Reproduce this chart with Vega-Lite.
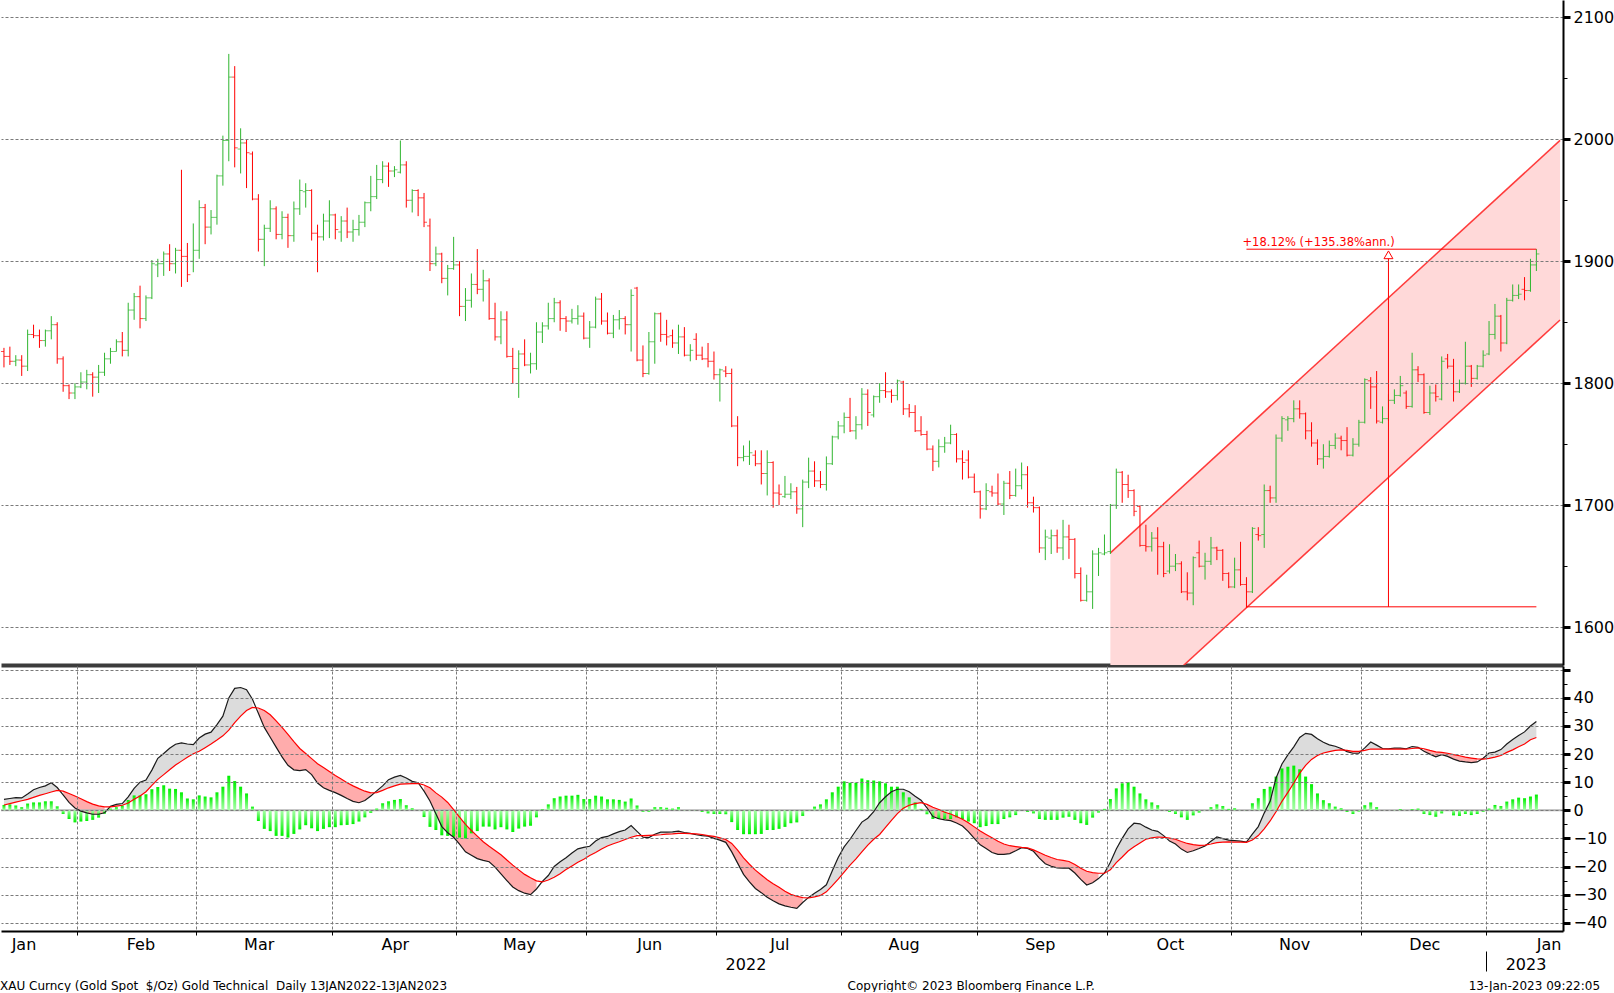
{
"$schema":"https://vega.github.io/schema/vega-lite/v6.json",
"padding":0,
"autosize":{"type":"pad"},
"background":"white",
"config":{"view":{"stroke":null},"axis":{"labelFont":"DejaVu Sans","labelColor":"#000"},"text":{"font":"DejaVu Sans"}},
"title":{"text":"XAU Curncy (Gold Spot\u00a0\u00a0$/Oz) Gold Technical\u00a0\u00a0Daily 13JAN2022-13JAN2023\u00a0\u00a0\u00a0\u00a0\u00a0\u00a0\u00a0\u00a0\u00a0\u00a0\u00a0\u00a0\u00a0\u00a0\u00a0\u00a0\u00a0\u00a0\u00a0\u00a0\u00a0\u00a0\u00a0\u00a0\u00a0\u00a0\u00a0\u00a0\u00a0\u00a0\u00a0\u00a0\u00a0\u00a0\u00a0\u00a0\u00a0\u00a0\u00a0\u00a0\u00a0\u00a0\u00a0\u00a0\u00a0\u00a0\u00a0\u00a0\u00a0\u00a0\u00a0\u00a0\u00a0\u00a0\u00a0\u00a0\u00a0\u00a0\u00a0\u00a0\u00a0\u00a0\u00a0\u00a0\u00a0\u00a0\u00a0\u00a0\u00a0\u00a0\u00a0\u00a0\u00a0\u00a0\u00a0\u00a0\u00a0\u00a0\u00a0\u00a0\u00a0\u00a0\u00a0\u00a0\u00a0\u00a0\u00a0\u00a0\u00a0\u00a0\u00a0\u00a0\u00a0\u00a0\u00a0\u00a0\u00a0\u00a0\u00a0\u00a0\u00a0\u00a0\u00a0\u00a0\u00a0Copyright\u00a9 2023 Bloomberg Finance L.P.\u00a0\u00a0\u00a0\u00a0\u00a0\u00a0\u00a0\u00a0\u00a0\u00a0\u00a0\u00a0\u00a0\u00a0\u00a0\u00a0\u00a0\u00a0\u00a0\u00a0\u00a0\u00a0\u00a0\u00a0\u00a0\u00a0\u00a0\u00a0\u00a0\u00a0\u00a0\u00a0\u00a0\u00a0\u00a0\u00a0\u00a0\u00a0\u00a0\u00a0\u00a0\u00a0\u00a0\u00a0\u00a0\u00a0\u00a0\u00a0\u00a0\u00a0\u00a0\u00a0\u00a0\u00a0\u00a0\u00a0\u00a0\u00a0\u00a0\u00a0\u00a0\u00a0\u00a0\u00a0\u00a0\u00a0\u00a0\u00a0\u00a0\u00a0\u00a0\u00a0\u00a0\u00a0\u00a0\u00a0\u00a0\u00a0\u00a0\u00a0\u00a0\u00a0\u00a0\u00a0\u00a0\u00a0\u00a0\u00a0\u00a0\u00a0\u00a0\u00a0\u00a0\u00a0\u00a0\u00a0\u00a0\u00a013-Jan-2023 09:22:05","orient":"bottom","anchor":"start","frame":"bounds","offset":9,"fontSize":12,"fontWeight":"normal","font":"DejaVu Sans","color":"#000"},
"datasets":{
"p":[
{"d":"2022-01-13","o":1826,"h":1829,"l":1813,"c":1822,"m":3.9,"s":1.9,"k":1.9,"g":0,"sd":"u"},
{"d":"2022-01-14","o":1822,"h":1830,"l":1815,"c":1818,"m":4.2,"s":2.4,"k":2.1,"g":0,"sd":"u"},
{"d":"2022-01-17","o":1818,"h":1823,"l":1814,"c":1819,"m":4.5,"s":2.9,"k":1.7,"g":0,"sd":"u"},
{"d":"2022-01-18","o":1819,"h":1823,"l":1806,"c":1814,"m":4.4,"s":3.4,"k":1.1,"g":0,"sd":"u"},
{"d":"2022-01-19","o":1814,"h":1844,"l":1810,"c":1840,"m":5.8,"s":3.9,"k":2.4,"g":0,"sd":"u"},
{"d":"2022-01-20","o":1840,"h":1848,"l":1837,"c":1839,"m":7.3,"s":4.6,"k":2.8,"g":0,"sd":"u"},
{"d":"2022-01-21","o":1839,"h":1844,"l":1829,"c":1835,"m":8.1,"s":5.3,"k":2.8,"g":0,"sd":"u"},
{"d":"2022-01-24","o":1835,"h":1844,"l":1830,"c":1843,"m":8.7,"s":5.9,"k":3.2,"g":0,"sd":"u"},
{"d":"2022-01-25","o":1843,"h":1855,"l":1836,"c":1848,"m":9.8,"s":6.5,"k":3.2,"g":0,"sd":"u"},
{"d":"2022-01-26","o":1848,"h":1850,"l":1816,"c":1820,"m":8.1,"s":7.1,"k":1.4,"g":0,"sd":"u"},
{"d":"2022-01-27","o":1820,"h":1822,"l":1793,"c":1798,"m":5.5,"s":6.8,"k":-1.3,"g":1,"sd":"d"},
{"d":"2022-01-28","o":1798,"h":1799,"l":1787,"c":1792,"m":2.8,"s":6.0,"k":-3.1,"g":1,"sd":"d"},
{"d":"2022-01-31","o":1792,"h":1800,"l":1787,"c":1797,"m":0.8,"s":5.1,"k":-4.3,"g":1,"sd":"d"},
{"d":"2022-02-01","o":1797,"h":1809,"l":1796,"c":1801,"m":-0.3,"s":4.1,"k":-4.0,"g":1,"sd":"d"},
{"d":"2022-02-02","o":1801,"h":1811,"l":1795,"c":1807,"m":-0.9,"s":3.1,"k":-3.8,"g":1,"sd":"d"},
{"d":"2022-02-03","o":1807,"h":1809,"l":1789,"c":1805,"m":-1.4,"s":2.2,"k":-3.4,"g":1,"sd":"d"},
{"d":"2022-02-04","o":1805,"h":1815,"l":1792,"c":1809,"m":-1.4,"s":1.6,"k":-2.6,"g":1,"sd":"d"},
{"d":"2022-02-07","o":1809,"h":1825,"l":1806,"c":1820,"m":-0.9,"s":1.2,"k":-1.2,"g":1,"sd":"d"},
{"d":"2022-02-08","o":1820,"h":1829,"l":1816,"c":1826,"m":1.4,"s":1.2,"k":0.6,"g":2,"sd":"u"},
{"d":"2022-02-09","o":1826,"h":1836,"l":1826,"c":1834,"m":2.1,"s":1.5,"k":1.1,"g":2,"sd":"u"},
{"d":"2022-02-10","o":1834,"h":1842,"l":1822,"c":1827,"m":2.4,"s":1.8,"k":1.7,"g":2,"sd":"u"},
{"d":"2022-02-11","o":1827,"h":1866,"l":1822,"c":1860,"m":4.8,"s":2.6,"k":3.7,"g":2,"sd":"u"},
{"d":"2022-02-14","o":1860,"h":1874,"l":1852,"c":1871,"m":7.8,"s":3.9,"k":5.3,"g":2,"sd":"u"},
{"d":"2022-02-15","o":1871,"h":1880,"l":1845,"c":1853,"m":10.0,"s":5.1,"k":5.3,"g":2,"sd":"u"},
{"d":"2022-02-16","o":1853,"h":1872,"l":1851,"c":1870,"m":10.8,"s":6.6,"k":5.7,"g":2,"sd":"u"},
{"d":"2022-02-17","o":1870,"h":1901,"l":1869,"c":1898,"m":14.3,"s":8.9,"k":7.5,"g":2,"sd":"u"},
{"d":"2022-02-18","o":1897,"h":1902,"l":1887,"c":1898,"m":18.5,"s":11.0,"k":8.3,"g":2,"sd":"u"},
{"d":"2022-02-21","o":1898,"h":1908,"l":1888,"c":1906,"m":20.2,"s":12.7,"k":8.9,"g":2,"sd":"u"},
{"d":"2022-02-22","o":1906,"h":1914,"l":1892,"c":1898,"m":22.1,"s":14.4,"k":7.7,"g":2,"sd":"u"},
{"d":"2022-02-23","o":1898,"h":1911,"l":1890,"c":1909,"m":23.5,"s":16.1,"k":7.6,"g":2,"sd":"u"},
{"d":"2022-02-24","o":1909,"h":1975,"l":1879,"c":1904,"m":24.0,"s":17.5,"k":6.4,"g":2,"sd":"u"},
{"d":"2022-02-25","o":1904,"h":1915,"l":1883,"c":1889,"m":23.6,"s":18.9,"k":4.2,"g":2,"sd":"u"},
{"d":"2022-02-28","o":1900,"h":1931,"l":1891,"c":1909,"m":23.4,"s":20.1,"k":3.9,"g":2,"sd":"u"},
{"d":"2022-03-01","o":1909,"h":1950,"l":1902,"c":1944,"m":25.7,"s":21.0,"k":5.3,"g":2,"sd":"u"},
{"d":"2022-03-02","o":1944,"h":1947,"l":1914,"c":1928,"m":27.1,"s":22.3,"k":4.9,"g":2,"sd":"u"},
{"d":"2022-03-03","o":1928,"h":1942,"l":1922,"c":1936,"m":27.8,"s":23.6,"k":4.6,"g":2,"sd":"u"},
{"d":"2022-03-04","o":1936,"h":1971,"l":1930,"c":1970,"m":30.5,"s":25.0,"k":6.4,"g":2,"sd":"u"},
{"d":"2022-03-07","o":1970,"h":2003,"l":1962,"c":1999,"m":33.5,"s":26.5,"k":8.4,"g":2,"sd":"u"},
{"d":"2022-03-08","o":1999,"h":2070,"l":1982,"c":2051,"m":40.0,"s":28.5,"k":12.3,"g":2,"sd":"u"},
{"d":"2022-03-09","o":2051,"h":2060,"l":1977,"c":1993,"m":43.4,"s":31.2,"k":10.4,"g":2,"sd":"u"},
{"d":"2022-03-10","o":1992,"h":2009,"l":1972,"c":1997,"m":43.7,"s":33.5,"k":8.4,"g":2,"sd":"u"},
{"d":"2022-03-11","o":1997,"h":2000,"l":1960,"c":1989,"m":42.9,"s":35.5,"k":6.0,"g":2,"sd":"u"},
{"d":"2022-03-14","o":1988,"h":1990,"l":1950,"c":1951,"m":39.5,"s":36.6,"k":1.3,"g":2,"sd":"u"},
{"d":"2022-03-15","o":1951,"h":1955,"l":1908,"c":1918,"m":34.5,"s":36.4,"k":-3.8,"g":3,"sd":"d"},
{"d":"2022-03-16","o":1918,"h":1930,"l":1896,"c":1927,"m":29.5,"s":35.5,"k":-6.6,"g":3,"sd":"d"},
{"d":"2022-03-17","o":1927,"h":1950,"l":1924,"c":1943,"m":26.0,"s":34.0,"k":-7.4,"g":3,"sd":"d"},
{"d":"2022-03-18","o":1943,"h":1945,"l":1918,"c":1922,"m":22.5,"s":31.8,"k":-9.1,"g":3,"sd":"d"},
{"d":"2022-03-21","o":1922,"h":1941,"l":1918,"c":1936,"m":19.0,"s":29.5,"k":-9.1,"g":3,"sd":"d"},
{"d":"2022-03-22","o":1936,"h":1939,"l":1911,"c":1921,"m":16.0,"s":27.0,"k":-9.7,"g":3,"sd":"d"},
{"d":"2022-03-23","o":1921,"h":1949,"l":1916,"c":1943,"m":14.4,"s":24.4,"k":-8.4,"g":3,"sd":"d"},
{"d":"2022-03-24","o":1943,"h":1967,"l":1938,"c":1958,"m":14.1,"s":22.0,"k":-6.8,"g":3,"sd":"d"},
{"d":"2022-03-25","o":1957,"h":1964,"l":1944,"c":1958,"m":14.5,"s":20.2,"k":-5.3,"g":3,"sd":"d"},
{"d":"2022-03-28","o":1958,"h":1959,"l":1917,"c":1923,"m":12.7,"s":18.4,"k":-6.4,"g":3,"sd":"d"},
{"d":"2022-03-29","o":1923,"h":1930,"l":1891,"c":1920,"m":9.7,"s":16.6,"k":-7.4,"g":3,"sd":"d"},
{"d":"2022-03-30","o":1920,"h":1939,"l":1917,"c":1933,"m":8.0,"s":15.2,"k":-6.6,"g":3,"sd":"d"},
{"d":"2022-03-31","o":1933,"h":1950,"l":1919,"c":1938,"m":7.1,"s":13.8,"k":-6.0,"g":3,"sd":"d"},
{"d":"2022-04-01","o":1938,"h":1939,"l":1918,"c":1926,"m":6.3,"s":12.4,"k":-6.0,"g":3,"sd":"d"},
{"d":"2022-04-04","o":1924,"h":1937,"l":1916,"c":1933,"m":5.3,"s":11.1,"k":-5.3,"g":3,"sd":"d"},
{"d":"2022-04-05","o":1933,"h":1944,"l":1919,"c":1924,"m":4.2,"s":9.8,"k":-5.2,"g":3,"sd":"d"},
{"d":"2022-04-06","o":1924,"h":1934,"l":1916,"c":1926,"m":3.2,"s":8.7,"k":-4.9,"g":3,"sd":"d"},
{"d":"2022-04-07","o":1926,"h":1938,"l":1921,"c":1932,"m":2.7,"s":7.7,"k":-4.0,"g":3,"sd":"d"},
{"d":"2022-04-08","o":1932,"h":1949,"l":1928,"c":1948,"m":3.5,"s":6.8,"k":-2.5,"g":3,"sd":"d"},
{"d":"2022-04-11","o":1948,"h":1970,"l":1941,"c":1953,"m":5.1,"s":6.2,"k":-0.9,"g":3,"sd":"d"},
{"d":"2022-04-12","o":1953,"h":1979,"l":1951,"c":1967,"m":6.9,"s":6.3,"k":0.6,"g":4,"sd":"u"},
{"d":"2022-04-13","o":1967,"h":1982,"l":1964,"c":1978,"m":8.7,"s":7.1,"k":2.5,"g":4,"sd":"u"},
{"d":"2022-04-14","o":1978,"h":1981,"l":1961,"c":1974,"m":10.9,"s":8.0,"k":3.2,"g":4,"sd":"u"},
{"d":"2022-04-15","o":1974,"h":1978,"l":1969,"c":1975,"m":11.8,"s":8.7,"k":3.7,"g":4,"sd":"u"},
{"d":"2022-04-18","o":1973,"h":1999,"l":1972,"c":1979,"m":12.4,"s":9.3,"k":4.0,"g":4,"sd":"u"},
{"d":"2022-04-19","o":1979,"h":1982,"l":1944,"c":1950,"m":11.5,"s":9.4,"k":1.8,"g":4,"sd":"u"},
{"d":"2022-04-20","o":1950,"h":1959,"l":1940,"c":1958,"m":10.3,"s":9.5,"k":0.7,"g":4,"sd":"u"},
{"d":"2022-04-21","o":1958,"h":1959,"l":1937,"c":1952,"m":9.8,"s":9.6,"k":0.1,"g":4,"sd":"u"},
{"d":"2022-04-22","o":1952,"h":1956,"l":1928,"c":1932,"m":6.8,"s":9.0,"k":-2.4,"g":5,"sd":"d"},
{"d":"2022-04-25","o":1929,"h":1935,"l":1892,"c":1898,"m":3.3,"s":8.0,"k":-5.9,"g":5,"sd":"d"},
{"d":"2022-04-26","o":1898,"h":1912,"l":1896,"c":1906,"m":-1.2,"s":6.2,"k":-7.0,"g":5,"sd":"d"},
{"d":"2022-04-27","o":1906,"h":1907,"l":1882,"c":1886,"m":-5.8,"s":4.7,"k":-8.9,"g":5,"sd":"d"},
{"d":"2022-04-28","o":1886,"h":1897,"l":1872,"c":1894,"m":-8.0,"s":2.8,"k":-9.1,"g":5,"sd":"d"},
{"d":"2022-04-29","o":1894,"h":1920,"l":1893,"c":1897,"m":-9.6,"s":0.2,"k":-9.4,"g":5,"sd":"d"},
{"d":"2022-05-02","o":1897,"h":1900,"l":1855,"c":1863,"m":-12.0,"s":-2.4,"k":-9.7,"g":5,"sd":"d"},
{"d":"2022-05-03","o":1863,"h":1878,"l":1851,"c":1868,"m":-14.8,"s":-5.0,"k":-10.0,"g":5,"sd":"d"},
{"d":"2022-05-04","o":1868,"h":1890,"l":1862,"c":1881,"m":-16.0,"s":-7.2,"k":-8.2,"g":5,"sd":"d"},
{"d":"2022-05-05","o":1881,"h":1910,"l":1873,"c":1877,"m":-17.2,"s":-9.2,"k":-7.4,"g":5,"sd":"d"},
{"d":"2022-05-06","o":1877,"h":1893,"l":1867,"c":1884,"m":-17.8,"s":-11.2,"k":-5.8,"g":5,"sd":"d"},
{"d":"2022-05-09","o":1884,"h":1886,"l":1852,"c":1853,"m":-18.3,"s":-12.8,"k":-5.8,"g":5,"sd":"d"},
{"d":"2022-05-10","o":1853,"h":1866,"l":1835,"c":1838,"m":-20.2,"s":-14.3,"k":-6.8,"g":5,"sd":"d"},
{"d":"2022-05-11","o":1838,"h":1859,"l":1832,"c":1852,"m":-22.6,"s":-15.8,"k":-6.0,"g":5,"sd":"d"},
{"d":"2022-05-12","o":1852,"h":1859,"l":1821,"c":1822,"m":-25.0,"s":-17.7,"k":-6.8,"g":5,"sd":"d"},
{"d":"2022-05-13","o":1822,"h":1829,"l":1800,"c":1812,"m":-27.3,"s":-19.5,"k":-7.7,"g":5,"sd":"d"},
{"d":"2022-05-16","o":1812,"h":1827,"l":1788,"c":1824,"m":-28.6,"s":-21.2,"k":-6.5,"g":5,"sd":"d"},
{"d":"2022-05-17","o":1824,"h":1836,"l":1814,"c":1815,"m":-29.5,"s":-22.8,"k":-5.8,"g":5,"sd":"d"},
{"d":"2022-05-18","o":1815,"h":1825,"l":1808,"c":1816,"m":-30.0,"s":-24.0,"k":-5.5,"g":5,"sd":"d"},
{"d":"2022-05-19","o":1816,"h":1850,"l":1811,"c":1842,"m":-28.0,"s":-25.1,"k":-2.5,"g":5,"sd":"d"},
{"d":"2022-05-20","o":1842,"h":1850,"l":1833,"c":1847,"m":-25.3,"s":-25.5,"k":0.3,"g":6,"sd":"u"},
{"d":"2022-05-23","o":1847,"h":1866,"l":1844,"c":1853,"m":-23.2,"s":-24.8,"k":2.1,"g":6,"sd":"u"},
{"d":"2022-05-24","o":1853,"h":1870,"l":1850,"c":1866,"m":-20.0,"s":-23.8,"k":4.3,"g":6,"sd":"u"},
{"d":"2022-05-25","o":1866,"h":1868,"l":1843,"c":1853,"m":-18.3,"s":-22.6,"k":4.9,"g":6,"sd":"u"},
{"d":"2022-05-26","o":1853,"h":1855,"l":1842,"c":1851,"m":-16.9,"s":-21.1,"k":5.2,"g":6,"sd":"u"},
{"d":"2022-05-27","o":1851,"h":1861,"l":1849,"c":1853,"m":-15.2,"s":-19.8,"k":5.2,"g":6,"sd":"u"},
{"d":"2022-05-30","o":1853,"h":1864,"l":1848,"c":1855,"m":-13.7,"s":-18.5,"k":5.5,"g":6,"sd":"u"},
{"d":"2022-05-31","o":1855,"h":1858,"l":1836,"c":1837,"m":-13.2,"s":-17.4,"k":4.0,"g":6,"sd":"u"},
{"d":"2022-06-01","o":1837,"h":1851,"l":1829,"c":1846,"m":-12.8,"s":-16.1,"k":4.0,"g":6,"sd":"u"},
{"d":"2022-06-02","o":1846,"h":1871,"l":1845,"c":1869,"m":-10.9,"s":-15.0,"k":5.2,"g":6,"sd":"u"},
{"d":"2022-06-03","o":1869,"h":1874,"l":1848,"c":1851,"m":-9.7,"s":-13.8,"k":4.9,"g":6,"sd":"u"},
{"d":"2022-06-06","o":1851,"h":1858,"l":1840,"c":1841,"m":-9.3,"s":-12.7,"k":3.9,"g":6,"sd":"u"},
{"d":"2022-06-07","o":1841,"h":1856,"l":1837,"c":1852,"m":-8.4,"s":-11.9,"k":3.9,"g":6,"sd":"u"},
{"d":"2022-06-08","o":1852,"h":1860,"l":1844,"c":1853,"m":-7.6,"s":-11.2,"k":3.7,"g":6,"sd":"u"},
{"d":"2022-06-09","o":1853,"h":1855,"l":1840,"c":1848,"m":-7.0,"s":-10.4,"k":3.1,"g":6,"sd":"u"},
{"d":"2022-06-10","o":1848,"h":1877,"l":1826,"c":1872,"m":-5.4,"s":-9.6,"k":4.2,"g":6,"sd":"u"},
{"d":"2022-06-13","o":1878,"h":1879,"l":1818,"c":1819,"m":-7.5,"s":-9.0,"k":1.7,"g":6,"sd":"u"},
{"d":"2022-06-14","o":1819,"h":1831,"l":1805,"c":1808,"m":-9.6,"s":-9.0,"k":-0.5,"g":7,"sd":"d"},
{"d":"2022-06-15","o":1808,"h":1842,"l":1807,"c":1834,"m":-9.7,"s":-8.9,"k":-0.5,"g":7,"sd":"d"},
{"d":"2022-06-16","o":1834,"h":1858,"l":1816,"c":1857,"m":-8.5,"s":-8.8,"k":1.1,"g":8,"sd":"u"},
{"d":"2022-06-17","o":1857,"h":1858,"l":1834,"c":1840,"m":-7.8,"s":-8.7,"k":1.1,"g":8,"sd":"u"},
{"d":"2022-06-20","o":1840,"h":1852,"l":1831,"c":1838,"m":-7.8,"s":-8.5,"k":0.9,"g":8,"sd":"u"},
{"d":"2022-06-21","o":1839,"h":1844,"l":1829,"c":1833,"m":-7.7,"s":-8.4,"k":0.6,"g":8,"sd":"u"},
{"d":"2022-06-22","o":1833,"h":1848,"l":1824,"c":1838,"m":-7.4,"s":-8.2,"k":1.1,"g":8,"sd":"u"},
{"d":"2022-06-23","o":1838,"h":1846,"l":1822,"c":1823,"m":-7.9,"s":-8.2,"k":0.1,"g":8,"sd":"u"},
{"d":"2022-06-24","o":1823,"h":1832,"l":1818,"c":1827,"m":-8.2,"s":-8.3,"k":0.1,"g":8,"sd":"u"},
{"d":"2022-06-27","o":1836,"h":1841,"l":1819,"c":1823,"m":-8.7,"s":-8.4,"k":-0.1,"g":9,"sd":"d"},
{"d":"2022-06-28","o":1823,"h":1830,"l":1819,"c":1820,"m":-9.0,"s":-8.6,"k":-0.6,"g":9,"sd":"d"},
{"d":"2022-06-29","o":1820,"h":1833,"l":1813,"c":1818,"m":-9.2,"s":-9.0,"k":-1.1,"g":9,"sd":"d"},
{"d":"2022-06-30","o":1818,"h":1826,"l":1803,"c":1807,"m":-10.0,"s":-9.3,"k":-1.3,"g":9,"sd":"d"},
{"d":"2022-07-01","o":1807,"h":1812,"l":1785,"c":1811,"m":-10.6,"s":-9.8,"k":-1.3,"g":9,"sd":"d"},
{"d":"2022-07-04","o":1810,"h":1814,"l":1805,"c":1808,"m":-11.4,"s":-10.4,"k":-1.4,"g":9,"sd":"d"},
{"d":"2022-07-05","o":1808,"h":1812,"l":1764,"c":1765,"m":-14.8,"s":-11.8,"k":-4.2,"g":9,"sd":"d"},
{"d":"2022-07-06","o":1765,"h":1773,"l":1732,"c":1739,"m":-18.8,"s":-14.2,"k":-7.0,"g":9,"sd":"d"},
{"d":"2022-07-07","o":1739,"h":1749,"l":1736,"c":1740,"m":-22.8,"s":-16.9,"k":-8.5,"g":9,"sd":"d"},
{"d":"2022-07-08","o":1740,"h":1753,"l":1733,"c":1743,"m":-25.5,"s":-19.2,"k":-8.5,"g":9,"sd":"d"},
{"d":"2022-07-11","o":1741,"h":1745,"l":1732,"c":1734,"m":-27.8,"s":-21.3,"k":-8.5,"g":9,"sd":"d"},
{"d":"2022-07-12","o":1734,"h":1745,"l":1717,"c":1726,"m":-29.3,"s":-23.0,"k":-8.4,"g":9,"sd":"d"},
{"d":"2022-07-13","o":1726,"h":1745,"l":1708,"c":1735,"m":-30.9,"s":-24.7,"k":-7.0,"g":9,"sd":"d"},
{"d":"2022-07-14","o":1735,"h":1736,"l":1698,"c":1710,"m":-32.2,"s":-26.1,"k":-7.0,"g":9,"sd":"d"},
{"d":"2022-07-15","o":1710,"h":1717,"l":1700,"c":1709,"m":-33.3,"s":-27.4,"k":-6.6,"g":9,"sd":"d"},
{"d":"2022-07-18","o":1707,"h":1724,"l":1706,"c":1709,"m":-34.0,"s":-28.8,"k":-5.9,"g":9,"sd":"d"},
{"d":"2022-07-19","o":1709,"h":1718,"l":1705,"c":1711,"m":-34.5,"s":-29.9,"k":-4.6,"g":9,"sd":"d"},
{"d":"2022-07-20","o":1711,"h":1715,"l":1693,"c":1697,"m":-34.9,"s":-30.6,"k":-4.3,"g":9,"sd":"d"},
{"d":"2022-07-21","o":1697,"h":1721,"l":1682,"c":1719,"m":-32.8,"s":-31.1,"k":-2.0,"g":9,"sd":"d"},
{"d":"2022-07-22","o":1719,"h":1739,"l":1714,"c":1728,"m":-31.0,"s":-31.2,"k":-0.2,"g":10,"sd":"u"},
{"d":"2022-07-25","o":1728,"h":1736,"l":1715,"c":1720,"m":-29.5,"s":-30.8,"k":1.3,"g":10,"sd":"u"},
{"d":"2022-07-26","o":1720,"h":1728,"l":1714,"c":1717,"m":-28.2,"s":-30.3,"k":2.1,"g":10,"sd":"u"},
{"d":"2022-07-27","o":1717,"h":1740,"l":1712,"c":1734,"m":-26.5,"s":-29.0,"k":3.9,"g":10,"sd":"u"},
{"d":"2022-07-28","o":1734,"h":1757,"l":1733,"c":1756,"m":-21.5,"s":-26.8,"k":6.4,"g":10,"sd":"u"},
{"d":"2022-07-29","o":1756,"h":1769,"l":1754,"c":1765,"m":-16.8,"s":-24.5,"k":8.4,"g":10,"sd":"u"},
{"d":"2022-08-01","o":1765,"h":1776,"l":1759,"c":1772,"m":-13.0,"s":-22.0,"k":10.3,"g":10,"sd":"u"},
{"d":"2022-08-02","o":1772,"h":1788,"l":1760,"c":1761,"m":-10.3,"s":-19.5,"k":9.8,"g":10,"sd":"u"},
{"d":"2022-08-03","o":1761,"h":1773,"l":1754,"c":1766,"m":-7.2,"s":-17.3,"k":9.8,"g":10,"sd":"u"},
{"d":"2022-08-04","o":1766,"h":1796,"l":1762,"c":1791,"m":-4.2,"s":-14.8,"k":11.3,"g":10,"sd":"u"},
{"d":"2022-08-05","o":1791,"h":1795,"l":1765,"c":1776,"m":-2.8,"s":-12.4,"k":10.7,"g":10,"sd":"u"},
{"d":"2022-08-08","o":1774,"h":1790,"l":1772,"c":1789,"m":-0.5,"s":-10.3,"k":10.6,"g":10,"sd":"u"},
{"d":"2022-08-09","o":1789,"h":1800,"l":1784,"c":1794,"m":2.7,"s":-8.6,"k":10.3,"g":10,"sd":"u"},
{"d":"2022-08-10","o":1794,"h":1809,"l":1788,"c":1793,"m":4.8,"s":-6.1,"k":9.6,"g":10,"sd":"u"},
{"d":"2022-08-11","o":1793,"h":1795,"l":1784,"c":1790,"m":6.6,"s":-3.6,"k":8.4,"g":10,"sd":"u"},
{"d":"2022-08-12","o":1790,"h":1803,"l":1786,"c":1802,"m":7.5,"s":-1.2,"k":8.4,"g":10,"sd":"u"},
{"d":"2022-08-15","o":1801,"h":1802,"l":1774,"c":1779,"m":7.5,"s":0.7,"k":6.4,"g":10,"sd":"u"},
{"d":"2022-08-16","o":1779,"h":1783,"l":1772,"c":1776,"m":6.6,"s":1.8,"k":4.6,"g":10,"sd":"u"},
{"d":"2022-08-17","o":1776,"h":1782,"l":1760,"c":1761,"m":5.0,"s":2.4,"k":2.8,"g":10,"sd":"u"},
{"d":"2022-08-18","o":1761,"h":1773,"l":1757,"c":1758,"m":3.6,"s":2.7,"k":0.5,"g":10,"sd":"u"},
{"d":"2022-08-19","o":1758,"h":1761,"l":1745,"c":1746,"m":0.9,"s":2.1,"k":-1.4,"g":11,"sd":"d"},
{"d":"2022-08-22","o":1746,"h":1749,"l":1728,"c":1736,"m":-2.2,"s":1.1,"k":-3.1,"g":11,"sd":"d"},
{"d":"2022-08-23","o":1736,"h":1754,"l":1731,"c":1748,"m":-3.0,"s":0.3,"k":-3.1,"g":11,"sd":"d"},
{"d":"2022-08-24","o":1748,"h":1756,"l":1743,"c":1751,"m":-3.4,"s":-0.7,"k":-3.1,"g":11,"sd":"d"},
{"d":"2022-08-25","o":1751,"h":1766,"l":1750,"c":1758,"m":-3.7,"s":-1.3,"k":-3.1,"g":11,"sd":"d"},
{"d":"2022-08-26","o":1758,"h":1759,"l":1735,"c":1738,"m":-4.5,"s":-2.2,"k":-2.5,"g":11,"sd":"d"},
{"d":"2022-08-29","o":1738,"h":1745,"l":1721,"c":1735,"m":-5.6,"s":-3.2,"k":-3.1,"g":11,"sd":"d"},
{"d":"2022-08-30","o":1737,"h":1745,"l":1722,"c":1723,"m":-7.6,"s":-4.4,"k":-4.0,"g":11,"sd":"d"},
{"d":"2022-08-31","o":1723,"h":1726,"l":1710,"c":1711,"m":-10.0,"s":-5.9,"k":-4.6,"g":11,"sd":"d"},
{"d":"2022-09-01","o":1711,"h":1712,"l":1689,"c":1697,"m":-12.3,"s":-7.4,"k":-6.0,"g":11,"sd":"d"},
{"d":"2022-09-02","o":1697,"h":1718,"l":1696,"c":1712,"m":-13.6,"s":-8.6,"k":-5.6,"g":11,"sd":"d"},
{"d":"2022-09-05","o":1711,"h":1716,"l":1707,"c":1710,"m":-15.0,"s":-9.8,"k":-4.9,"g":11,"sd":"d"},
{"d":"2022-09-06","o":1710,"h":1726,"l":1700,"c":1701,"m":-15.7,"s":-11.0,"k":-4.9,"g":11,"sd":"d"},
{"d":"2022-09-07","o":1701,"h":1720,"l":1692,"c":1718,"m":-15.7,"s":-12.0,"k":-3.1,"g":11,"sd":"d"},
{"d":"2022-09-08","o":1718,"h":1728,"l":1705,"c":1708,"m":-15.4,"s":-12.6,"k":-2.5,"g":11,"sd":"d"},
{"d":"2022-09-09","o":1708,"h":1730,"l":1707,"c":1716,"m":-14.4,"s":-12.9,"k":-1.7,"g":11,"sd":"d"},
{"d":"2022-09-12","o":1716,"h":1735,"l":1713,"c":1725,"m":-13.3,"s":-13.2,"k":-0.1,"g":11,"sd":"d"},
{"d":"2022-09-13","o":1725,"h":1732,"l":1698,"c":1702,"m":-13.6,"s":-13.4,"k":-0.6,"g":11,"sd":"d"},
{"d":"2022-09-14","o":1702,"h":1707,"l":1694,"c":1698,"m":-14.6,"s":-14.1,"k":-1.1,"g":11,"sd":"d"},
{"d":"2022-09-15","o":1698,"h":1699,"l":1661,"c":1665,"m":-17.0,"s":-15.0,"k":-3.1,"g":11,"sd":"d"},
{"d":"2022-09-16","o":1665,"h":1680,"l":1655,"c":1674,"m":-19.0,"s":-16.0,"k":-3.4,"g":11,"sd":"d"},
{"d":"2022-09-19","o":1673,"h":1680,"l":1660,"c":1675,"m":-19.9,"s":-16.8,"k":-3.4,"g":11,"sd":"d"},
{"d":"2022-09-20","o":1675,"h":1680,"l":1661,"c":1665,"m":-20.5,"s":-17.5,"k":-3.4,"g":11,"sd":"d"},
{"d":"2022-09-21","o":1665,"h":1688,"l":1655,"c":1674,"m":-20.6,"s":-17.8,"k":-2.6,"g":11,"sd":"d"},
{"d":"2022-09-22","o":1674,"h":1684,"l":1656,"c":1672,"m":-20.6,"s":-18.2,"k":-2.3,"g":11,"sd":"d"},
{"d":"2022-09-23","o":1672,"h":1673,"l":1640,"c":1644,"m":-22.3,"s":-19.3,"k":-3.4,"g":11,"sd":"d"},
{"d":"2022-09-26","o":1644,"h":1649,"l":1621,"c":1622,"m":-24.6,"s":-20.6,"k":-4.6,"g":11,"sd":"d"},
{"d":"2022-09-27","o":1622,"h":1643,"l":1621,"c":1629,"m":-26.6,"s":-21.7,"k":-5.2,"g":11,"sd":"d"},
{"d":"2022-09-28","o":1629,"h":1663,"l":1615,"c":1660,"m":-25.8,"s":-22.2,"k":-2.6,"g":11,"sd":"d"},
{"d":"2022-09-29","o":1660,"h":1665,"l":1642,"c":1661,"m":-24.3,"s":-22.4,"k":-0.8,"g":11,"sd":"d"},
{"d":"2022-09-30","o":1660,"h":1676,"l":1659,"c":1661,"m":-22.3,"s":-22.4,"k":0.5,"g":12,"sd":"u"},
{"d":"2022-10-03","o":1662,"h":1701,"l":1660,"c":1700,"m":-18.5,"s":-21.2,"k":4.0,"g":12,"sd":"u"},
{"d":"2022-10-04","o":1700,"h":1730,"l":1697,"c":1727,"m":-13.8,"s":-18.6,"k":7.8,"g":12,"sd":"u"},
{"d":"2022-10-05","o":1727,"h":1728,"l":1702,"c":1717,"m":-10.0,"s":-16.6,"k":9.6,"g":12,"sd":"u"},
{"d":"2022-10-06","o":1717,"h":1725,"l":1706,"c":1712,"m":-6.6,"s":-14.5,"k":10.0,"g":12,"sd":"u"},
{"d":"2022-10-07","o":1712,"h":1713,"l":1691,"c":1695,"m":-4.6,"s":-13.0,"k":8.4,"g":12,"sd":"u"},
{"d":"2022-10-10","o":1699,"h":1700,"l":1666,"c":1667,"m":-4.8,"s":-11.6,"k":6.0,"g":12,"sd":"u"},
{"d":"2022-10-11","o":1667,"h":1684,"l":1662,"c":1666,"m":-6.0,"s":-10.3,"k":3.9,"g":12,"sd":"u"},
{"d":"2022-10-12","o":1666,"h":1678,"l":1662,"c":1673,"m":-7.0,"s":-9.8,"k":2.8,"g":12,"sd":"u"},
{"d":"2022-10-13","o":1673,"h":1682,"l":1643,"c":1666,"m":-7.5,"s":-9.5,"k":1.8,"g":12,"sd":"u"},
{"d":"2022-10-14","o":1666,"h":1670,"l":1641,"c":1644,"m":-9.0,"s":-9.6,"k":0.1,"g":12,"sd":"u"},
{"d":"2022-10-17","o":1646,"h":1668,"l":1644,"c":1650,"m":-10.9,"s":-9.9,"k":-0.6,"g":13,"sd":"d"},
{"d":"2022-10-18","o":1650,"h":1660,"l":1646,"c":1652,"m":-12.0,"s":-10.3,"k":-1.3,"g":13,"sd":"d"},
{"d":"2022-10-19","o":1652,"h":1654,"l":1628,"c":1629,"m":-13.8,"s":-11.1,"k":-2.5,"g":13,"sd":"d"},
{"d":"2022-10-20","o":1629,"h":1645,"l":1622,"c":1628,"m":-15.0,"s":-11.8,"k":-3.4,"g":13,"sd":"d"},
{"d":"2022-10-21","o":1628,"h":1658,"l":1618,"c":1657,"m":-14.4,"s":-12.2,"k":-1.8,"g":13,"sd":"d"},
{"d":"2022-10-24","o":1661,"h":1671,"l":1649,"c":1650,"m":-13.6,"s":-12.5,"k":-0.8,"g":13,"sd":"d"},
{"d":"2022-10-25","o":1650,"h":1661,"l":1639,"c":1654,"m":-12.7,"s":-12.4,"k":0.1,"g":13,"sd":"d"},
{"d":"2022-10-26","o":1654,"h":1674,"l":1651,"c":1665,"m":-11.0,"s":-12.0,"k":1.1,"g":14,"sd":"u"},
{"d":"2022-10-27","o":1665,"h":1666,"l":1655,"c":1663,"m":-9.5,"s":-11.5,"k":2.1,"g":14,"sd":"u"},
{"d":"2022-10-28","o":1663,"h":1664,"l":1638,"c":1644,"m":-10.1,"s":-11.3,"k":1.5,"g":14,"sd":"u"},
{"d":"2022-10-31","o":1644,"h":1645,"l":1632,"c":1633,"m":-10.6,"s":-11.2,"k":0.5,"g":14,"sd":"u"},
{"d":"2022-11-01","o":1633,"h":1657,"l":1632,"c":1647,"m":-10.8,"s":-11.3,"k":0.7,"g":14,"sd":"u"},
{"d":"2022-11-02","o":1647,"h":1670,"l":1634,"c":1635,"m":-11.0,"s":-11.3,"k":0.1,"g":14,"sd":"u"},
{"d":"2022-11-03","o":1635,"h":1641,"l":1616,"c":1629,"m":-11.3,"s":-11.4,"k":-0.1,"g":14,"sd":"u"},
{"d":"2022-11-04","o":1629,"h":1682,"l":1628,"c":1681,"m":-8.5,"s":-10.6,"k":2.5,"g":14,"sd":"u"},
{"d":"2022-11-07","o":1676,"h":1682,"l":1671,"c":1675,"m":-5.8,"s":-9.0,"k":4.3,"g":14,"sd":"u"},
{"d":"2022-11-08","o":1676,"h":1717,"l":1665,"c":1712,"m":-1.0,"s":-6.6,"k":7.6,"g":14,"sd":"u"},
{"d":"2022-11-09","o":1712,"h":1716,"l":1702,"c":1706,"m":3.2,"s":-3.8,"k":8.4,"g":14,"sd":"u"},
{"d":"2022-11-10","o":1706,"h":1758,"l":1702,"c":1755,"m":11.5,"s":-0.5,"k":12.0,"g":14,"sd":"u"},
{"d":"2022-11-11","o":1755,"h":1773,"l":1752,"c":1771,"m":16.5,"s":3.2,"k":14.9,"g":14,"sd":"u"},
{"d":"2022-11-14","o":1770,"h":1773,"l":1761,"c":1771,"m":19.7,"s":6.4,"k":15.5,"g":14,"sd":"u"},
{"d":"2022-11-15","o":1771,"h":1786,"l":1768,"c":1779,"m":22.6,"s":9.7,"k":15.9,"g":14,"sd":"u"},
{"d":"2022-11-16","o":1779,"h":1786,"l":1771,"c":1775,"m":25.9,"s":13.2,"k":14.6,"g":14,"sd":"u"},
{"d":"2022-11-17","o":1775,"h":1776,"l":1754,"c":1761,"m":27.4,"s":16.0,"k":12.0,"g":14,"sd":"u"},
{"d":"2022-11-18","o":1761,"h":1768,"l":1748,"c":1751,"m":27.0,"s":18.1,"k":9.3,"g":14,"sd":"u"},
{"d":"2022-11-21","o":1751,"h":1754,"l":1733,"c":1738,"m":25.5,"s":19.5,"k":6.0,"g":14,"sd":"u"},
{"d":"2022-11-22","o":1738,"h":1750,"l":1730,"c":1740,"m":24.2,"s":20.4,"k":3.6,"g":14,"sd":"u"},
{"d":"2022-11-23","o":1740,"h":1753,"l":1739,"c":1749,"m":23.3,"s":20.9,"k":2.5,"g":14,"sd":"u"},
{"d":"2022-11-24","o":1749,"h":1759,"l":1746,"c":1755,"m":22.8,"s":21.3,"k":1.3,"g":14,"sd":"u"},
{"d":"2022-11-25","o":1755,"h":1757,"l":1745,"c":1753,"m":22.0,"s":21.5,"k":0.7,"g":14,"sd":"u"},
{"d":"2022-11-28","o":1753,"h":1764,"l":1740,"c":1741,"m":20.9,"s":21.3,"k":-0.6,"g":15,"sd":"d"},
{"d":"2022-11-29","o":1741,"h":1755,"l":1740,"c":1750,"m":20.3,"s":21.0,"k":-1.3,"g":15,"sd":"d"},
{"d":"2022-11-30","o":1750,"h":1770,"l":1748,"c":1768,"m":20.3,"s":21.0,"k":-0.4,"g":15,"sd":"d"},
{"d":"2022-12-01","o":1768,"h":1804,"l":1767,"c":1803,"m":22.2,"s":21.3,"k":1.8,"g":16,"sd":"u"},
{"d":"2022-12-02","o":1802,"h":1805,"l":1779,"c":1797,"m":24.3,"s":21.8,"k":2.8,"g":16,"sd":"u"},
{"d":"2022-12-05","o":1797,"h":1810,"l":1767,"c":1769,"m":23.2,"s":21.8,"k":1.1,"g":16,"sd":"u"},
{"d":"2022-12-06","o":1768,"h":1781,"l":1767,"c":1771,"m":22.0,"s":21.8,"k":0.1,"g":16,"sd":"u"},
{"d":"2022-12-07","o":1771,"h":1791,"l":1769,"c":1786,"m":21.9,"s":21.8,"k":0.0,"g":16,"sd":"u"},
{"d":"2022-12-08","o":1786,"h":1795,"l":1783,"c":1790,"m":22.1,"s":21.8,"k":0.1,"g":16,"sd":"u"},
{"d":"2022-12-09","o":1790,"h":1806,"l":1789,"c":1798,"m":22.1,"s":21.8,"k":0.4,"g":16,"sd":"u"},
{"d":"2022-12-12","o":1792,"h":1794,"l":1779,"c":1781,"m":21.9,"s":21.8,"k":0.1,"g":16,"sd":"u"},
{"d":"2022-12-13","o":1781,"h":1825,"l":1780,"c":1811,"m":22.7,"s":22.0,"k":0.4,"g":16,"sd":"u"},
{"d":"2022-12-14","o":1811,"h":1814,"l":1801,"c":1807,"m":22.4,"s":22.2,"k":0.6,"g":16,"sd":"u"},
{"d":"2022-12-15","o":1807,"h":1808,"l":1775,"c":1776,"m":21.0,"s":21.9,"k":-1.3,"g":17,"sd":"d"},
{"d":"2022-12-16","o":1776,"h":1798,"l":1774,"c":1792,"m":20.0,"s":21.3,"k":-1.7,"g":17,"sd":"d"},
{"d":"2022-12-19","o":1792,"h":1799,"l":1785,"c":1789,"m":19.0,"s":20.8,"k":-2.3,"g":17,"sd":"d"},
{"d":"2022-12-20","o":1787,"h":1822,"l":1786,"c":1818,"m":19.8,"s":20.6,"k":-1.1,"g":17,"sd":"d"},
{"d":"2022-12-21","o":1820,"h":1824,"l":1812,"c":1814,"m":19.2,"s":20.3,"k":-0.1,"g":17,"sd":"d"},
{"d":"2022-12-22","o":1814,"h":1820,"l":1785,"c":1793,"m":18.2,"s":19.8,"k":-1.8,"g":17,"sd":"d"},
{"d":"2022-12-23","o":1793,"h":1803,"l":1792,"c":1800,"m":17.5,"s":19.4,"k":-2.0,"g":17,"sd":"d"},
{"d":"2022-12-27","o":1800,"h":1834,"l":1799,"c":1814,"m":17.2,"s":18.9,"k":-1.3,"g":17,"sd":"d"},
{"d":"2022-12-28","o":1814,"h":1815,"l":1797,"c":1804,"m":17.0,"s":18.6,"k":-1.7,"g":17,"sd":"d"},
{"d":"2022-12-29","o":1804,"h":1815,"l":1803,"c":1814,"m":17.2,"s":18.3,"k":-1.3,"g":17,"sd":"d"},
{"d":"2022-12-30","o":1814,"h":1827,"l":1813,"c":1823,"m":18.5,"s":18.2,"k":-0.5,"g":18,"sd":"u"},
{"d":"2023-01-03","o":1824,"h":1851,"l":1823,"c":1840,"m":20.4,"s":18.5,"k":0.6,"g":18,"sd":"u"},
{"d":"2023-01-04","o":1840,"h":1865,"l":1836,"c":1855,"m":20.7,"s":18.9,"k":1.9,"g":18,"sd":"u"},
{"d":"2023-01-05","o":1855,"h":1856,"l":1826,"c":1833,"m":21.6,"s":19.5,"k":1.5,"g":18,"sd":"u"},
{"d":"2023-01-06","o":1833,"h":1870,"l":1832,"c":1868,"m":23.6,"s":20.6,"k":3.1,"g":18,"sd":"u"},
{"d":"2023-01-09","o":1868,"h":1881,"l":1867,"c":1872,"m":25.2,"s":21.5,"k":3.9,"g":18,"sd":"u"},
{"d":"2023-01-10","o":1872,"h":1881,"l":1869,"c":1873,"m":26.6,"s":22.6,"k":4.5,"g":18,"sd":"u"},
{"d":"2023-01-11","o":1877,"h":1887,"l":1868,"c":1876,"m":27.9,"s":23.6,"k":4.3,"g":18,"sd":"u"},
{"d":"2023-01-12","o":1876,"h":1902,"l":1875,"c":1897,"m":30.0,"s":25.1,"k":4.9,"g":18,"sd":"u"},
{"d":"2023-01-13","o":1897,"h":1910,"l":1892,"c":1906,"m":31.6,"s":25.9,"k":5.6,"g":18,"sd":"u"}
],
"ch":[{"d":"2022-10-03","u":1660.9,"lo":1513.6},{"d":"2023-01-19","u":1999.1,"lo":1851.8}],
"hl":[{"d":"2022-11-03","d2":"2023-01-13","p":1909.9},{"d":"2022-11-03","d2":"2023-01-13","p":1616.7}],
"vl":[{"d":"2022-12-07","p":1616.7,"p2":1903}],
"ar":[{"d":"2022-12-07","p":1905.3}],
"tx":[{"d":"2022-11-03","p":1909.9,"t":"+18.12% (+135.38%ann.)"}]
},
"spacing":1,
"vconcat":[
{
"width":1562,"height":665,
"resolve":{"axis":{"x":"independent","y":"independent"}},
"layer":[
{"data":{"name":"ch"},"mark":{"type":"area","clip":true,"color":"#ffd9d9","opacity":1},
 "encoding":{
  "x":{"field":"d","type":"ordinal","axis":null},
  "y":{"field":"u","type":"quantitative","scale":{"domain":[1569,2114.2],"nice":false,"zero":false},
   "axis":{"orient":"right","values":[1600,1700,1800,1900,2000,2100],"format":"d","labelFontSize":16,"labelPadding":3,"grid":true,"gridColor":"#7a7a7a","gridDash":[3,2],"gridWidth":1,"domain":true,"domainColor":"#000","domainWidth":2,"ticks":true,"tickColor":"#000","tickSize":7,"tickWidth":3,"title":null,"zindex":1}},
  "y2":{"field":"lo"}}},
{"data":{"name":"ch"},"mark":{"type":"line","clip":true,"color":"#ff3b3b","strokeWidth":1.5},
 "encoding":{"x":{"field":"d","type":"ordinal","axis":null},"y":{"field":"u","type":"quantitative","scale":{"domain":[1569,2114.2],"nice":false,"zero":false},"axis":null}}},
{"data":{"name":"ch"},"mark":{"type":"line","clip":true,"color":"#ff3b3b","strokeWidth":1.5},
 "encoding":{"x":{"field":"d","type":"ordinal","axis":null},"y":{"field":"lo","type":"quantitative","scale":{"domain":[1569,2114.2],"nice":false,"zero":false},"axis":null}}},
{"data":{"name":"p"},"mark":{"type":"rule","strokeWidth":1},
 "encoding":{
  "x":{"field":"d","type":"ordinal","scale":{"type":"band","paddingInner":0,"paddingOuter":0,"domain":{"unionWith":["2023-01-16","2023-01-17","2023-01-18","2023-01-19"]}},"axis":{"orient":"bottom","labels":false,"ticks":false,"grid":false,"domain":true,"domainColor":"#3c3c3c","domainWidth":4,"title":null}},
  "y":{"field":"h","type":"quantitative","scale":{"domain":[1569,2114.2],"nice":false,"zero":false},
   "axis":{"orient":"right","values":[1650,1750,1850,1950,2050],"labels":false,"grid":false,"domain":false,"ticks":true,"tickColor":"#000","tickSize":4,"tickWidth":1,"title":null,"zindex":1}},"y2":{"field":"l"},
  "color":{"condition":{"test":"datum.c > datum.o","value":"#2fb52f"},"value":"#ff0000"}}},
{"data":{"name":"p"},"mark":{"type":"tick","orient":"horizontal","size":3,"thickness":1,"xOffset":-1.5},
 "encoding":{"x":{"field":"d","type":"ordinal","axis":null},"y":{"field":"o","type":"quantitative","scale":{"domain":[1569,2114.2],"nice":false,"zero":false},"axis":null},
  "color":{"condition":{"test":"datum.c > datum.o","value":"#2fb52f"},"value":"#ff0000"}}},
{"data":{"name":"p"},"mark":{"type":"tick","orient":"horizontal","size":3,"thickness":1,"xOffset":1.5},
 "encoding":{"x":{"field":"d","type":"ordinal","axis":null},"y":{"field":"c","type":"quantitative","scale":{"domain":[1569,2114.2],"nice":false,"zero":false},"axis":null},
  "color":{"condition":{"test":"datum.c > datum.o","value":"#2fb52f"},"value":"#ff0000"}}},
{"data":{"name":"hl"},"mark":{"type":"rule","color":"#ff0000","strokeWidth":1},
 "encoding":{"x":{"field":"d","type":"ordinal","axis":null},"x2":{"field":"d2"},"y":{"field":"p","type":"quantitative","scale":{"domain":[1569,2114.2],"nice":false,"zero":false},"axis":null}}},
{"data":{"name":"vl"},"mark":{"type":"rule","color":"#ff0000","strokeWidth":1},
 "encoding":{"x":{"field":"d","type":"ordinal","axis":null},"y":{"field":"p","type":"quantitative","scale":{"domain":[1569,2114.2],"nice":false,"zero":false},"axis":null},"y2":{"field":"p2"}}},
{"data":{"name":"ar"},"mark":{"type":"point","shape":"triangle-up","filled":true,"fill":"#ffffff","stroke":"#ff0000","strokeWidth":1,"size":80,"opacity":1},
 "encoding":{"x":{"field":"d","type":"ordinal","axis":null},"y":{"field":"p","type":"quantitative","scale":{"domain":[1569,2114.2],"nice":false,"zero":false},"axis":null}}},
{"data":{"name":"tx"},"mark":{"type":"text","align":"left","baseline":"alphabetic","dx":-4,"dy":-3,"fontSize":11.5,"font":"DejaVu Sans","color":"#ff0000"},
 "encoding":{"x":{"field":"d","type":"ordinal","axis":null},"y":{"field":"p","type":"quantitative","scale":{"domain":[1569,2114.2],"nice":false,"zero":false},"axis":null},"text":{"field":"t"}}}
]
},
{
"width":1562,"height":265,
"data":{"name":"p"},
"resolve":{"axis":{"x":"independent","y":"independent"}},
"layer":[
{"mark":{"type":"area","opacity":1},
 "encoding":{
  "x":{"field":"d","type":"ordinal","scale":{"type":"band","paddingInner":0,"paddingOuter":0,"domain":{"unionWith":["2023-01-16","2023-01-17","2023-01-18","2023-01-19"]}},
   "axis":{"orient":"bottom","values":["2022-01-13","2022-02-01","2022-03-01","2022-04-01","2022-05-02","2022-06-01","2022-07-01","2022-08-01","2022-09-01","2022-10-03","2022-11-01","2022-12-01","2023-01-03"],"bandPosition":0,"labelExpr":"utcFormat(toDate(datum.value), '%b')","labelAngle":0,"labelOffset":{"condition":{"test":"datum.value === '2022-01-13'","value":20},"value":60},"labelPadding":1,"labelOverlap":false,"labelBound":false,"labelFlush":false,"labelFontSize":16,"ticks":true,"tickSize":4,"tickColor":"#000","tickWidth":1,"tickOpacity":{"condition":{"test":"datum.value === '2022-01-13'","value":0},"value":1},"grid":true,"gridColor":"#7a7a7a","gridDash":[3,2],"gridWidth":1,"gridOpacity":{"condition":{"test":"datum.value === '2022-01-13'","value":0},"value":1},"domain":true,"domainColor":"#000","domainWidth":2,"title":null,"zindex":1}},
  "y":{"field":"m","type":"quantitative","scale":{"domain":[-42.95,51.35],"nice":false,"zero":false},
   "axis":{"orient":"right","values":[-40,-30,-20,-10,0,10,20,30,40,50],"format":"d","labelExpr":"datum.value < 50 ? datum.label : ''","labelFontSize":16,"labelPadding":3,"grid":true,"gridColor":"#7a7a7a","gridDash":[3,2],"gridWidth":1,"domain":true,"domainColor":"#000","domainWidth":2,"ticks":true,"tickColor":"#000","tickSize":7,"tickWidth":3,"title":null,"zindex":1}},
  "y2":{"field":"s"},
  "color":{"field":"sd","type":"nominal","scale":{"domain":["u","d"],"range":["#dcdcdc","#ffacac"]},"legend":null},
  "detail":{"field":"g","type":"nominal"}}},
{"data":{"values":[{}]},"mark":{"type":"rule","color":"#b4b4b4","strokeWidth":2},
 "encoding":{"y":{"datum":0,"type":"quantitative","scale":{"domain":[-42.95,51.35],"nice":false,"zero":false},"axis":null}}},
{"transform":[{"filter":"datum.k > 0"}],
 "mark":{"type":"bar","width":3,"color":{"gradient":"linear","x1":0,"y1":0,"x2":0,"y2":1,"stops":[{"offset":0,"color":"#00f000"},{"offset":1,"color":"#a8ffa8"}]}},
 "encoding":{"x":{"field":"d","type":"ordinal","axis":null},"y":{"field":"k","type":"quantitative","scale":{"domain":[-42.95,51.35],"nice":false,"zero":false},
   "axis":{"orient":"right","values":[-35,-25,-15,-5,5,15,25,35,45],"labels":false,"grid":false,"domain":false,"ticks":true,"tickColor":"#000","tickSize":4,"tickWidth":1,"title":null,"zindex":1}}}},
{"transform":[{"filter":"datum.k < 0"}],
 "mark":{"type":"bar","width":3,"color":{"gradient":"linear","x1":0,"y1":0,"x2":0,"y2":1,"stops":[{"offset":0,"color":"#a8ffa8"},{"offset":1,"color":"#00f000"}]}},
 "encoding":{"x":{"field":"d","type":"ordinal","axis":null},"y":{"field":"k","type":"quantitative","scale":{"domain":[-42.95,51.35],"nice":false,"zero":false},"axis":null}}},
{"mark":{"type":"line","color":"#1a1a1a","strokeWidth":1.2},
 "encoding":{
  "x":{"field":"d","type":"ordinal","axis":{"orient":"bottom","offset":20,"values":["2022-01-13","2023-01-03"],"bandPosition":0,"labelExpr":"slice(datum.value, 0, 4)","labelAngle":0,"labelOffset":{"condition":{"test":"datum.value === '2022-01-13'","value":742},"value":37},"labelPadding":-15,"labelOverlap":false,"labelBound":false,"labelFlush":false,"labelFontSize":16,"ticks":true,"tickSize":20,"tickColor":"#000","tickWidth":1,"tickOpacity":{"condition":{"test":"datum.value === '2022-01-13'","value":0},"value":1},"domain":false,"grid":false,"title":null}},
  "y":{"field":"m","type":"quantitative","scale":{"domain":[-42.95,51.35],"nice":false,"zero":false},"axis":null}}},
{"mark":{"type":"line","color":"#ff0000","strokeWidth":1.2},
 "encoding":{"x":{"field":"d","type":"ordinal","axis":null},"y":{"field":"s","type":"quantitative","scale":{"domain":[-42.95,51.35],"nice":false,"zero":false},"axis":null}}}
]
}
]
}
